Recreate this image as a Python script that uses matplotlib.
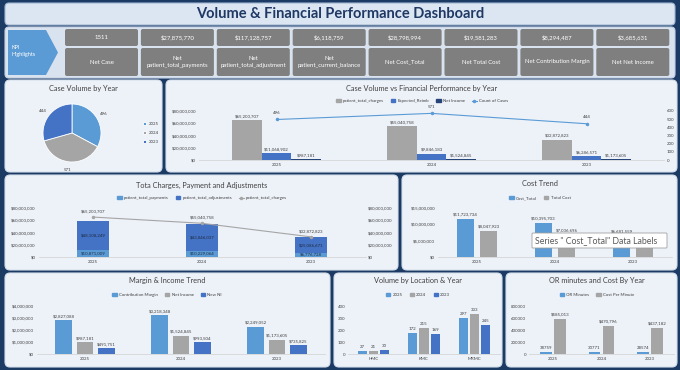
import numpy as np
import matplotlib.pyplot as plt
from matplotlib.patches import FancyBboxPatch, Polygon, Patch
from matplotlib.lines import Line2D
from matplotlib.ticker import FuncFormatter

plt.rcParams['font.family'] = ['Lato', 'DejaVu Sans']

# ── Data ─────────────────────────────────────────────────────────────────────
years = ["2025", "2024", "2023"]

kpi_values = ["1511", "$27,875,770", "$117,128,757", "$6,118,759",
              "$28,798,994", "$19,581,283", "$8,294,487", "$3,685,631"]
kpi_labels = ["Net Case", "Net\npatient_total_payments", "Net\npatient_total_adjustment",
              "Net\npatient_current_balance", "Net Cost_Total", "Net Total Cost",
              "Net Contribution Margin", "Net Net Income"]

case_counts = [496, 571, 444]
total_charges = [65200707, 55040758, 32872823]
expected_reimb = [11068902, 9846183, 6286571]
net_income = [987181, 1524845, 1173605]

total_payments = [10871009, 10229064, 6776728]
total_adjustments = [48108249, 43846037, 25086671]

cost_total = [11723734, 10395703, 6681559]
total_cost = [8047923, 7006696, 4526664]

contribution_margin = [2827088, 3218348, 2249052]
new_ni = [491751, 993504, 735825]

locations = ["HMC", "KMC", "MRMC"]
loc_2025 = [27, 172, 297]
loc_2024 = [21, 215, 333]
loc_2023 = [30, 169, 245]

or_minutes = [38759, 30771, 28574]
cost_per_minute = [585013, 470796, 437182]

# ── Style ────────────────────────────────────────────────────────────────────
C_LIGHT = "#5B9BD5"
C_GREY = "#A5A5A5"
C_BLUE = "#4472C4"
C_NAVY = "#264478"
BG = "#1B3A64"
PANEL = "#EDF2F9"
TXT = "#404040"

W, H = 680, 370
TICK_FS = 3.2
LBL_FS = 3.2
TITLE_FS = 5.3

money = FuncFormatter(lambda v, p: f"${v:,.0f}")

fig = plt.figure(figsize=(W / 100, H / 100), dpi=100, facecolor=BG)

bg = fig.add_axes([0, 0, 1, 1])
bg.set_xlim(0, W)
bg.set_ylim(H, 0)
bg.axis("off")


def panel(x0, y0, x1, y1, fc=PANEL, ec="#D5DFEC", r=5, ax=bg, lw=0.8):
    ax.add_patch(FancyBboxPatch((x0, y0), x1 - x0, y1 - y0,
                                boxstyle=f"round,pad=0,rounding_size={r}",
                                fc=fc, ec=ec, lw=lw))


def add_ax(x0, y0, x1, y1):
    ax = fig.add_axes([x0 / W, 1 - y1 / H, (x1 - x0) / W, (y1 - y0) / H])
    ax.set_facecolor("none")
    for s in ["top", "right", "left"]:
        ax.spines[s].set_visible(False)
    ax.spines["bottom"].set_color("#D0D0D0")
    ax.spines["bottom"].set_linewidth(0.5)
    ax.tick_params(length=0, labelsize=TICK_FS, colors=TXT, pad=2)
    return ax


def title(cx, cy, s):
    fig.text(cx / W, 1 - cy / H, s, ha="center", va="center",
             fontsize=TITLE_FS, color=TXT)


def legend(ax, handles, cx, cy, ncol=None):
    ax.legend(handles=handles, loc="center", bbox_to_anchor=(cx / W, 1 - cy / H),
              bbox_transform=fig.transFigure, ncol=ncol or len(handles),
              frameon=False, fontsize=LBL_FS, handlelength=1.0, handleheight=0.6,
              columnspacing=1.6, handletextpad=0.5, labelcolor=TXT)


def bar_labels(ax, xs, vals, fmt, dy=1.5):
    for x, v in zip(xs, vals):
        ax.annotate(fmt(v), (x, v), xytext=(0, dy), textcoords="offset points",
                    ha="center", va="bottom", fontsize=LBL_FS, color=TXT)


fmt_money = lambda v: f"${v:,.0f}"
fmt_int = lambda v: f"{v:d}"

# ── Header ───────────────────────────────────────────────────────────────────
panel(5, 3, 675, 25, fc="#DCE6F2", ec="#9FB6D3", r=4)
bg.text(340, 14, "Volume & Financial Performance Dashboard", ha="center",
        va="center", fontsize=10.5, fontweight="bold", color="#1F3864")

panel(5, 27, 675, 78, fc="#D9E2EF", ec="#C3D1E4", r=4)
bg.add_patch(Polygon([(8, 30), (46, 30), (58, 52.5), (46, 75), (8, 75)],
                     closed=True, fc=C_LIGHT, ec="none"))
bg.text(12, 51, "KPI\nHighlights", ha="left", va="center", fontsize=4,
        color="white", linespacing=1.3)

for i, (v, lab) in enumerate(zip(kpi_values, kpi_labels)):
    x0 = 65 + i * 75.9
    panel(x0, 29, x0 + 73, 46, fc="#7F7F7F", ec="none", r=2)
    panel(x0, 48, x0 + 73, 76, fc="#7F7F7F", ec="none", r=2)
    bg.text(x0 + 36.5, 37.5, v, ha="center", va="center", fontsize=4.3, color="white")
    bg.text(x0 + 36.5, 62, lab, ha="center", va="center", fontsize=4.3,
            color="white", linespacing=1.4)

# ── Panels ───────────────────────────────────────────────────────────────────
panel(5, 80, 162, 172)
panel(166, 80, 677, 172)
panel(5, 175, 398, 270)
panel(402, 175, 677, 270)
panel(5, 273, 330, 367)
panel(334, 273, 502, 367)
panel(506, 273, 677, 367)

x = np.arange(3)

# ── Pie: Case Volume by Year ─────────────────────────────────────────────────
title(83, 88, "Case Volume by Year")
ax = fig.add_axes([43 / W, 1 - 162 / H, 58 / W, 58 / H])
wedges, texts = ax.pie(case_counts, labels=[str(c) for c in case_counts],
                       colors=[C_LIGHT, C_GREY, C_BLUE], startangle=90,
                       counterclock=False, labeldistance=1.27,
                       wedgeprops=dict(ec="white", lw=0.6),
                       textprops=dict(fontsize=LBL_FS, color=TXT))
ax.set_xlim(-1, 1)
ax.set_ylim(-1, 1)
for t in texts:
    t.set_ha("center")
    t.set_va("center")
ax.legend(wedges, years, loc="center", bbox_to_anchor=(151 / W, 1 - 133 / H),
          bbox_transform=fig.transFigure, frameon=False, fontsize=LBL_FS,
          handlelength=0.6, handleheight=0.6, handletextpad=0.5,
          labelspacing=1.2, labelcolor=TXT)

# ── Case Volume vs Financial Performance ─────────────────────────────────────
title(422, 88, "Case Volume vs Financial Performance by Year")
ax = add_ax(199, 111, 664, 160)
w = 0.19
ax.bar(x - w, total_charges, w, color=C_GREY)
ax.bar(x, expected_reimb, w, color=C_BLUE)
ax.bar(x + w, net_income, w, color=C_NAVY)
bar_labels(ax, x - w, total_charges, fmt_money)
bar_labels(ax, x, expected_reimb, fmt_money)
bar_labels(ax, x + w, net_income, fmt_money)
ax.set_xlim(-0.5, 2.5)
ax.set_ylim(0, 80e6)
ax.set_yticks(np.arange(0, 80e6 + 1, 20e6))
ax.yaxis.set_major_formatter(money)
ax.set_xticks(x, years)
ax2 = ax.twinx()
ax2.set_facecolor("none")
for s in ax2.spines.values():
    s.set_visible(False)
ax2.tick_params(length=0, labelsize=TICK_FS, colors=TXT, pad=2)
ax2.plot(x, case_counts, color=C_LIGHT, lw=0.8, marker="o", ms=1.5)
bar_labels(ax2, x, case_counts, fmt_int, dy=3.5)
ax2.set_ylim(0, 600)
ax2.set_yticks(np.arange(0, 601, 100))
legend(ax, [Patch(color=C_GREY, label="patient_total_charges"),
            Patch(color=C_BLUE, label="Expected_Reimb"),
            Patch(color=C_NAVY, label="Net Income"),
            Line2D([], [], color=C_LIGHT, lw=0.8, marker="o", ms=1.5,
                   label="Count of Cases")], 422, 101)

# ── Tota Charges, Payment and Adjustments ────────────────────────────────────
title(202, 185, "Tota Charges, Payment and Adjustments")
ax = add_ax(38.5, 208, 365.5, 257)
w = 0.30
ax.bar(x, total_payments, w, color=C_LIGHT)
ax.bar(x, total_adjustments, w, bottom=total_payments, color=C_BLUE)
for xi, p, a in zip(x, total_payments, total_adjustments):
    ax.text(xi, p / 2, fmt_money(p), ha="center", va="center",
            fontsize=LBL_FS, color="#1F2D45")
    ax.text(xi, p + a / 2, fmt_money(a), ha="center", va="center",
            fontsize=LBL_FS, color="#1F2D45")
ax.set_xlim(-0.5, 2.5)
ax.set_ylim(0, 80e6)
ax.set_yticks(np.arange(0, 80e6 + 1, 20e6))
ax.yaxis.set_major_formatter(money)
ax.set_xticks(x, years)
ax2 = ax.twinx()
ax2.set_facecolor("none")
for s in ax2.spines.values():
    s.set_visible(False)
ax2.tick_params(length=0, labelsize=TICK_FS, colors=TXT, pad=2)
ax2.plot(x, total_charges, color=C_GREY, lw=0.8, marker="o", ms=1.5)
bar_labels(ax2, x, total_charges, fmt_money, dy=2.5)
ax2.set_ylim(0, 80e6)
ax2.set_yticks(np.arange(0, 80e6 + 1, 20e6))
ax2.yaxis.set_major_formatter(money)
legend(ax, [Patch(color=C_LIGHT, label="patient_total_payments"),
            Patch(color=C_BLUE, label="patient_total_adjustments"),
            Line2D([], [], color=C_GREY, lw=0.8, marker="o", ms=1.5,
                   label="patient_total_charges")], 202, 198)

# ── Cost Trend ───────────────────────────────────────────────────────────────
title(540, 184, "Cost Trend")
ax = add_ax(438, 208, 672, 257)
w, off = 0.225, 0.147
ax.bar(x - off, cost_total, w, color=C_LIGHT)
ax.bar(x + off, total_cost, w, color=C_GREY)
bar_labels(ax, x - off, cost_total, fmt_money)
# the 2023 "Total Cost" label sits under the tooltip in the reference
bar_labels(ax, (x + off)[:2], total_cost[:2], fmt_money)
ax.set_xlim(-0.5, 2.5)
ax.set_ylim(0, 15e6)
ax.set_yticks(np.arange(0, 15e6 + 1, 5e6))
ax.yaxis.set_major_formatter(money)
ax.set_xticks(x, years)
legend(ax, [Patch(color=C_LIGHT, label="Cost_Total"),
            Patch(color=C_GREY, label="Total Cost")], 540, 198)

# ── Margin & Income Trend ────────────────────────────────────────────────────
title(167, 281, "Margin & Income Trend")
ax = add_ax(37, 306, 325, 354)
w, step = 0.17, 0.224
ax.bar(x - step, contribution_margin, w, color=C_LIGHT)
ax.bar(x, net_income, w, color=C_GREY)
ax.bar(x + step, new_ni, w, color=C_BLUE)
bar_labels(ax, x - step, contribution_margin, fmt_money)
bar_labels(ax, x, net_income, fmt_money)
bar_labels(ax, x + step, new_ni, fmt_money)
ax.set_xlim(-0.5, 2.5)
ax.set_ylim(0, 4e6)
ax.set_yticks(np.arange(0, 4e6 + 1, 1e6))
ax.yaxis.set_major_formatter(money)
ax.set_xticks(x, years)
legend(ax, [Patch(color=C_LIGHT, label="Contribution Margin"),
            Patch(color=C_GREY, label="Net Income"),
            Patch(color=C_BLUE, label="New NI")], 167, 295)

# ── Volume by Location & Year ────────────────────────────────────────────────
title(418, 281, "Volume by Location & Year")
ax = add_ax(348, 306, 500, 354)
w, step = 0.18, 0.22
for vals, col, dx in [(loc_2025, C_LIGHT, -step), (loc_2024, C_GREY, 0),
                      (loc_2023, C_BLUE, step)]:
    ax.bar(x + dx, vals, w, color=col)
    bar_labels(ax, x + dx, vals, fmt_int)
ax.set_xlim(-0.5, 2.5)
ax.set_ylim(0, 400)
ax.set_yticks(np.arange(0, 401, 100))
ax.set_xticks(x, locations)
legend(ax, [Patch(color=C_LIGHT, label="2025"),
            Patch(color=C_GREY, label="2024"),
            Patch(color=C_BLUE, label="2023")], 418, 295)

# ── OR minutes and Cost By Year ──────────────────────────────────────────────
title(597, 281, "OR minutes and Cost By Year")
ax = add_ax(529, 306, 674, 354)
w, off = 0.24, 0.145
ax.bar(x - off, or_minutes, w, color=C_LIGHT)
ax.bar(x + off, cost_per_minute, w, color=C_GREY)
bar_labels(ax, x - off, or_minutes, fmt_int)
bar_labels(ax, x + off, cost_per_minute, fmt_money)
ax.set_xlim(-0.5, 2.5)
ax.set_ylim(0, 800000)
ax.set_yticks(np.arange(0, 800001, 200000))
ax.set_xticks(x, years)
legend(ax, [Patch(color=C_LIGHT, label="OR Minutes"),
            Patch(color=C_GREY, label="Cost Per Minute")], 597, 295)

# ── Overlay: data-label tooltip ──────────────────────────────────────────────
ov = fig.add_axes([0, 0, 1, 1], zorder=10)
ov.set_xlim(0, W)
ov.set_ylim(H, 0)
ov.axis("off")
ov.patch.set_alpha(0)
panel(532, 233, 667, 248, fc="white", ec="#A0A0A0", r=1, ax=ov, lw=0.6)
ov.text(535, 240.5, 'Series " Cost_Total" Data Labels', ha="left", va="center",
        fontsize=6.3, color="#595959")

fig.savefig("out.png", dpi=100, facecolor=BG)
